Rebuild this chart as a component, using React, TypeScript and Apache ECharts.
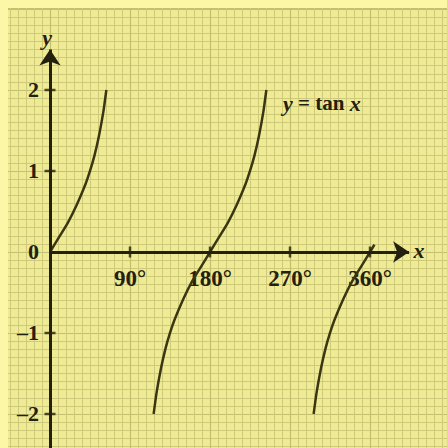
import React, { useEffect, useRef } from "react";
import * as echarts from "echarts";

// Tick positions on the axes
const X_TICKS = [90, 180, 270, 360];
const Y_TICKS = [-2, -1, 1, 2];

// Branches of y = tan x, as [degrees, value]
const BRANCH_1: [number, number][] = [
  [0, 0], [10, 0.18], [20, 0.36], [30, 0.58], [40, 0.84], [45, 1],
  [50, 1.19], [55, 1.43], [60, 1.73], [63.4, 2],
];
const BRANCH_2: [number, number][] = [
  [116.6, -2], [120, -1.73], [125, -1.43], [130, -1.19], [135, -1],
  [140, -0.84], [150, -0.58], [160, -0.36], [170, -0.18], [180, 0],
  [190, 0.18], [200, 0.36], [210, 0.58], [220, 0.84], [225, 1],
  [230, 1.19], [235, 1.43], [240, 1.73], [243.4, 2],
];
const BRANCH_3: [number, number][] = [
  [296.6, -2], [300, -1.73], [305, -1.43], [310, -1.19], [315, -1],
  [320, -0.84], [330, -0.58], [340, -0.36], [350, -0.18], [360, 0],
  [365, 0.09],
];

const SERIF = '"Liberation Serif", "DejaVu Serif", serif';
const INK = "#24200f";
const CURVE = "#3a3612";
const PAPER = "#fbf7a6";

export default function App() {
  const ref = useRef<HTMLDivElement>(null);

  useEffect(() => {
    document.body.style.margin = "0";
    const chart = echarts.init(ref.current!, null, { renderer: "svg" });

    const curve = (data: [number, number][]) => ({
      type: "line",
      data,
      showSymbol: false,
      smooth: 0.2,
      silent: true,
      z: 4,
      lineStyle: { color: CURVE, width: 2.5 },
    });

    // axes are shifted onto the origin with offsets; their lines are drawn by markLine
    const hiddenLine = { show: false, onZero: false };

    chart.setOption({
      animation: false,
      backgroundColor: "#efeb95",
      grid: {
        left: -30, right: 0, top: 8, bottom: -47,
        containLabel: false,
        outerBoundsMode: "none",
      },
      xAxis: {
        type: "value",
        position: "bottom",
        offset: -243,
        min: -90,
        max: 446.625,
        interval: 90,
        axisLine: hiddenLine,
        axisTick: { show: false },
        axisLabel: {
          margin: 15,
          fontFamily: SERIF,
          fontSize: 23,
          fontWeight: "bold",
          color: INK,
          formatter: (v: number) => (v > 0 && v <= 360 ? `${v}°` : ""),
        },
        splitLine: { show: true, lineStyle: { color: "#c4bf70", width: 1.2 } },
        minorTick: { show: false, splitNumber: 10 },
        minorSplitLine: { show: true, lineStyle: { color: "#cfca7b", width: 1 } },
      },
      yAxis: {
        type: "value",
        position: "left",
        offset: -80,
        min: -3,
        max: 3.0123,
        interval: 1,
        axisLine: hiddenLine,
        axisTick: { show: false },
        axisLabel: {
          margin: 11,
          fontFamily: SERIF,
          fontSize: 22,
          fontWeight: "bold",
          color: INK,
          formatter: (v: number) =>
            Math.abs(v) > 2 ? "" : v < 0 ? `\u2013${-v}` : `${v}`,
        },
        splitLine: { show: true, lineStyle: { color: "#c4bf70", width: 1.2 } },
        minorTick: { show: false, splitNumber: 10 },
        minorSplitLine: { show: true, lineStyle: { color: "#cfca7b", width: 1 } },
      },
      graphic: [
        { type: "rect", z: 1, shape: { x: 0, y: 0, width: 447, height: 8 }, style: { fill: PAPER } },
        { type: "rect", z: 1, shape: { x: 0, y: 0, width: 8, height: 448 }, style: { fill: PAPER } },
        {
          type: "text", z: 10, x: 47, y: 37,
          style: {
            text: "y", font: `italic bold 22px ${SERIF}`, fill: INK,
            align: "center", verticalAlign: "middle",
          },
        },
        {
          type: "text", z: 10, x: 419, y: 250,
          style: {
            text: "x", font: `italic bold 22px ${SERIF}`, fill: INK,
            align: "center", verticalAlign: "middle",
          },
        },
        {
          type: "text", z: 10, x: 283, y: 103,
          style: {
            text: "{i|y} = tan {i|x}",
            font: `bold 21px ${SERIF}`,
            fill: INK,
            verticalAlign: "middle",
            rich: {
              i: { fontFamily: SERIF, fontStyle: "italic", fontWeight: "bold", fontSize: 22, fill: INK },
            },
          },
        },
      ],
      series: [
        curve(BRANCH_1),
        curve(BRANCH_2),
        curve(BRANCH_3),
        {
          type: "scatter",
          silent: true,
          z: 5,
          symbol: "rect",
          symbolSize: [2.5, 11],
          itemStyle: { color: INK },
          data: X_TICKS.map((t) => [t, 0]),
          markLine: {
            silent: true,
            symbol: ["none", "arrow"],
            symbolSize: 16,
            label: { show: false },
            lineStyle: { color: INK, width: 3, type: "solid" },
            data: [
              [{ coord: [0, 0] }, { coord: [404, 0] }],
              [{ coord: [0, -3] }, { coord: [0, 2.5] }],
            ],
          },
        },
        {
          type: "scatter",
          silent: true,
          z: 5,
          symbol: "rect",
          symbolSize: [11, 2.5],
          itemStyle: { color: INK },
          data: Y_TICKS.map((t) => [0, t]),
        },
      ],
    });

    return () => chart.dispose();
  }, []);

  return <div ref={ref} style={{ width: 447, height: 448 }} />;
}
